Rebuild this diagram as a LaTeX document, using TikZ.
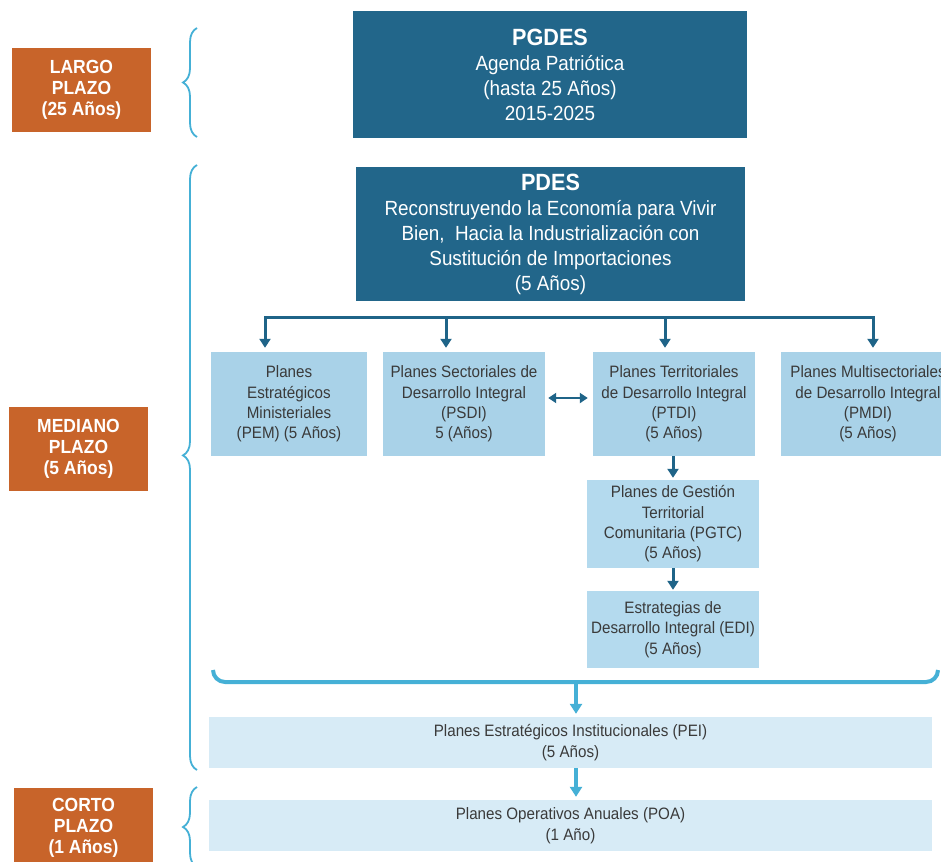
\documentclass[tikz,border=0pt]{standalone}
\usepackage{fontspec}
\setmainfont{Liberation Sans}[FakeStretch=0.92]
\usetikzlibrary{arrows.meta,decorations.pathreplacing,calc}
\definecolor{orng}{HTML}{C8642A}
\definecolor{dblue}{HTML}{22668A}
\definecolor{darr}{HTML}{1F6488}
\definecolor{lblue}{HTML}{A9D2E8}
\definecolor{mblue}{HTML}{B4DAEE}
\definecolor{pblue}{HTML}{D7EBF6}
\definecolor{cyanb}{HTML}{45B0D6}
\definecolor{txt}{HTML}{3A3A3A}
\begin{document}
\begin{tikzpicture}[x=1pt,y=-1pt,
  termbox/.style={fill=orng, text=white, font=\bfseries\fontsize{19}{21}\selectfont, align=center, inner sep=0pt, minimum width=139pt, minimum height=84pt},
  darkbox/.style={fill=dblue, text=white, font=\fontsize{20.5}{25}\selectfont, align=center, inner sep=0pt},
  lightbox/.style={fill=lblue, text=txt, font=\fontsize{16.5}{20.3}\selectfont, align=center, inner sep=0pt, minimum height=104pt},
  midbox/.style={lightbox, fill=mblue},
  palebox/.style={fill=pblue, text=txt, font=\fontsize{16.5}{21}\selectfont, align=center, inner sep=0pt, minimum width=723pt, minimum height=51pt},
  arr/.style={draw=darr, line width=3pt, -{Triangle[width=11pt,length=9pt]}},
  dblarr/.style={draw=darr, line width=2.8pt, {Triangle[width=10pt,length=8pt]}-{Triangle[width=10pt,length=8pt]}},
  carr/.style={draw=cyanb, line width=4pt, -{Triangle[width=12pt,length=10pt]}},
  brc/.style={draw=cyanb, line width=1.8pt, decorate, decoration={brace, amplitude=14pt}},
  bigbrc/.style={draw=cyanb, line width=4pt, rounded corners=12pt}]
\useasboundingbox (0,0) rectangle (941,861);
\clip (0,0) rectangle (941,861);
\fill[white] (0,0) rectangle (941,861);

% term labels
\node[termbox] (largo) at (81.5,90) {LARGO\\PLAZO\\(25 Años)};
\node[termbox] (mediano) at (78.5,449) {MEDIANO\\PLAZO\\(5 Años)};
\node[termbox, minimum height=80pt] (corto) at (83.5,828) {CORTO\\PLAZO\\(1 Años)};

% braces
\draw[brc] (197,137) -- (197,28);
\draw[brc, decoration={aspect=0.52}] (197,770) -- (197,165);
\draw[brc] (197,867) -- (197,787);

% dark boxes
\node[darkbox, minimum width=394pt, minimum height=127pt] (pgdes) at (550,74.5)
  {{\bfseries\fontsize{23.5}{25}\selectfont PGDES}\\Agenda Patriótica\\(hasta 25 Años)\\2015-2025};
\node[darkbox, minimum width=389pt, minimum height=134pt] (pdes) at (550.5,234)
  {{\bfseries\fontsize{23.5}{25}\selectfont PDES}\\Reconstruyendo la Economía para Vivir\\Bien,\ \ Hacia la Industrialización con\\Sustitución de Importaciones\\(5 Años)};

% second row
\node[lightbox, minimum width=156pt] (pem) at (289,404) {Planes\\Estratégicos\\Ministeriales\\(PEM) (5 Años)};
\node[lightbox, minimum width=162pt] (psdi) at (464,404) {Planes Sectoriales de\\Desarrollo Integral\\(PSDI)\\5 (Años)};
\node[lightbox, minimum width=162pt] (ptdi) at (674,404) {Planes Territoriales\\de Desarrollo Integral\\(PTDI)\\(5 Años)};
\node[lightbox, minimum width=174pt] (pmdi) at (868,404) {Planes Multisectoriales\\de Desarrollo Integral\\(PMDI)\\(5 Años)};

\node[midbox, minimum width=172pt, minimum height=88pt] (pgtc) at (673,524) {Planes de Gestión\\Territorial\\Comunitaria (PGTC)\\(5 Años)};
\node[midbox, minimum width=172pt, minimum height=77pt] (edi) at (673,629.5) {Estrategias de\\Desarrollo Integral (EDI)\\(5 Años)};

\node[palebox] (pei) at (570.5,742.5) {Planes Estratégicos Institucionales (PEI)\\(5 Años)};
\node[palebox] (poa) at (570.5,825.5) {Planes Operativos Anuales (POA)\\(1 Año)};

% branch bar
\coordinate (b1) at (265,317);
\coordinate (b2) at (446,317);
\coordinate (b3) at (665,317);
\coordinate (b4) at (873,317);
\draw[arr, shorten >=4pt] (b2) -- (b4) -- (b4 |- pmdi.north);
\draw[arr, shorten >=4pt] (b2) -- (b1) -- (b1 |- pem.north);
\draw[arr, shorten >=4pt] (b2) -- (b2 |- psdi.north);
\draw[arr, shorten >=4pt] (b3) -- (b3 |- ptdi.north);

\draw[dblarr, shorten <=3pt, shorten >=5pt] ([yshift=6pt]psdi.east) -- ([yshift=6pt]psdi.east -| ptdi.west);
\draw[arr, shorten >=2pt] (pgtc.north |- ptdi.south) -- (pgtc.north);
\draw[arr, shorten >=1pt] (pgtc.south) -- (edi.north);

% big brace and cyan arrows
\draw[bigbrc] (213,670) -- (213,682) -- (938,682) -- (938,670);
\coordinate (bt) at (576,682);
\draw[carr, shorten >=3pt] (bt) -- (bt |- pei.north);
\draw[carr, shorten >=3pt] (bt |- pei.south) -- (bt |- poa.north);
\end{tikzpicture}
\end{document}
